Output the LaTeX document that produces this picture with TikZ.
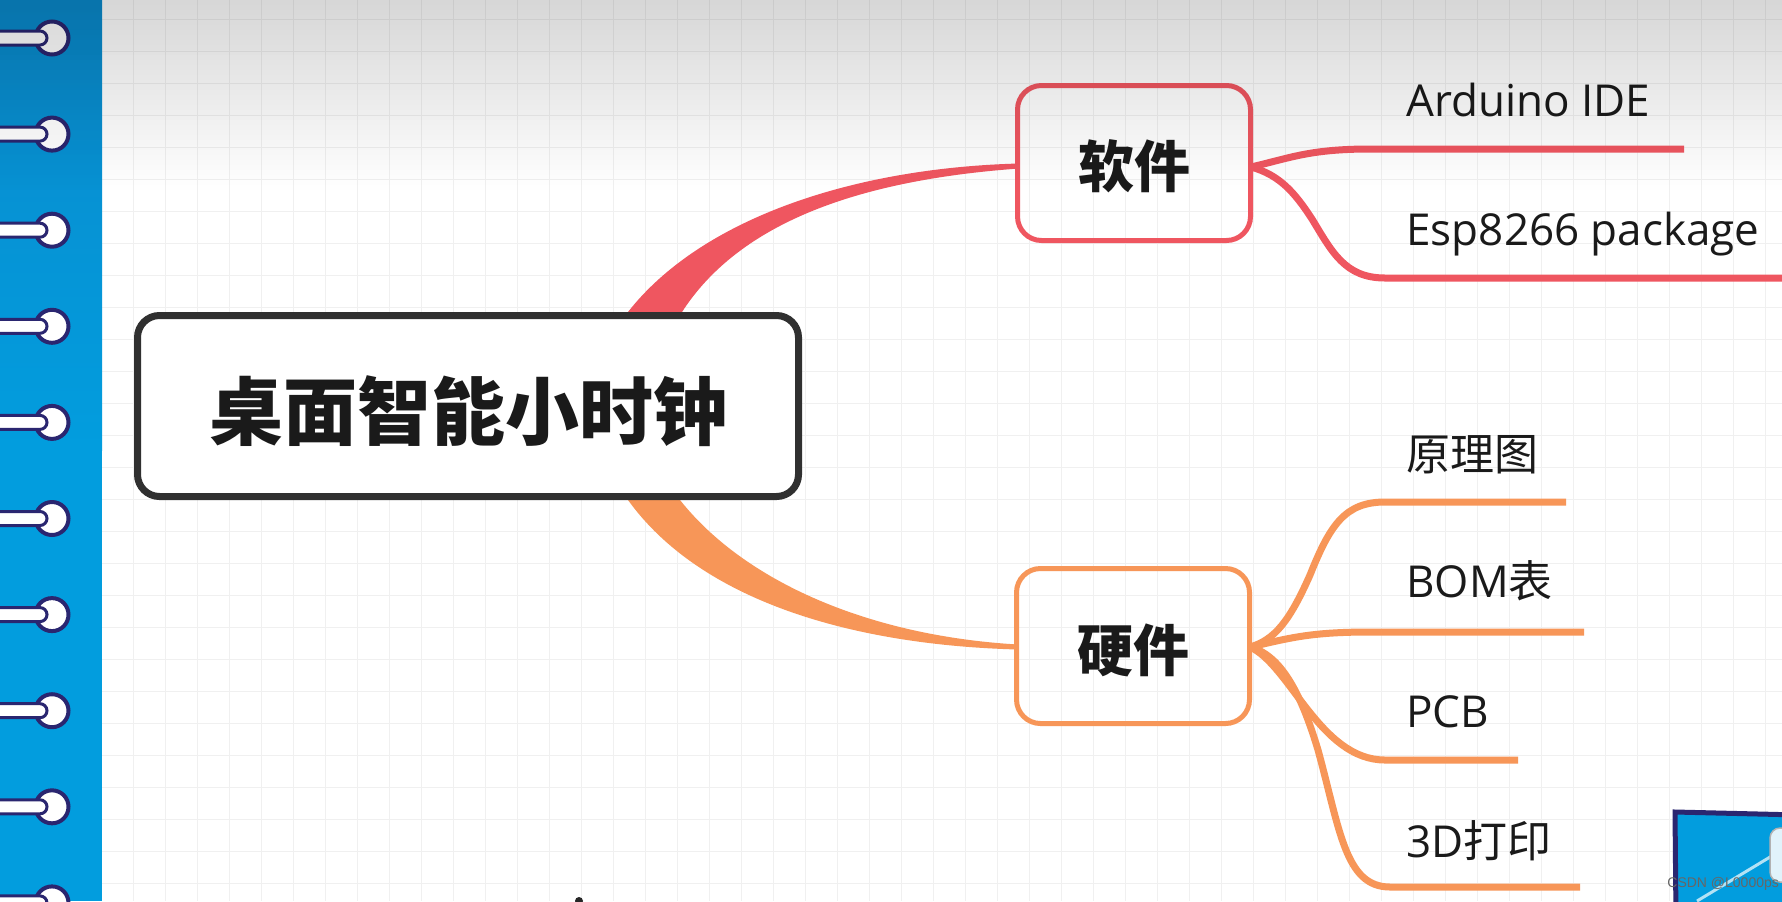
\documentclass[tikz,border=0pt]{standalone}
\usepackage{fontspec}
\setmainfont{Open Sans}
\newfontfamily\cjk{Noto Sans CJK SC}
\newfontfamily\wmfont{Liberation Sans}
\definecolor{redc}{RGB}{239,86,96}
\definecolor{orac}{RGB}{247,150,88}
\definecolor{mainc}{RGB}{48,48,48}
\definecolor{gridc}{RGB}{240,240,240}
\definecolor{stripc}{RGB}{2,157,222}
\definecolor{stripd}{RGB}{10,138,204}
\definecolor{navyc}{RGB}{42,38,112}
\definecolor{txtc}{RGB}{26,26,26}
\pgfdeclarelayer{back}
\pgfdeclarelayer{conn}
\pgfdeclarelayer{front}
\pgfsetlayers{back,conn,main,front}
\begin{document}
\begin{tikzpicture}[x=0.5pt,y=-0.5pt,
  mainbox/.style={draw=mainc, line width=3.5pt, rounded corners=11pt, fill=white,
    minimum width=330.5pt, minimum height=90.5pt, inner sep=0pt, text=txtc,
    font=\cjk\bfseries\fontsize{37pt}{40pt}\selectfont},
  subbox/.style={line width=2.5pt, rounded corners=12pt, minimum width=116.5pt,
    minimum height=77.5pt, inner sep=0pt, text=txtc,
    font=\cjk\bfseries\fontsize{28pt}{32pt}\selectfont},
  leaf/.style={anchor=base west, inner sep=0pt, text=txtc,
    font=\fontsize{22pt}{26pt}\selectfont},
  branch/.style={line width=3.5pt},
  ringbar/.style={draw=navyc, line width=1.5pt, fill=white, rounded corners=3.5pt},
  ringc/.style={draw=navyc, line width=2pt, fill=white},
]
\useasboundingbox (0,0) rectangle (1782,901);

% ---------- background ----------
\begin{pgfonlayer}{back}
\fill[white] (0,0) rectangle (1782,901);
\foreach \x in {133,165,...,1781} \draw[gridc, line width=0.5pt] (\x,0) -- (\x,901);
\foreach \y in {19,51,...,899} \draw[gridc, line width=0.5pt] (102,\y) -- (1782,\y);
\shade[top color=stripd, bottom color=stripc] (0,0) rectangle (102,450);
\fill[stripc] (0,449) rectangle (102,901);
\foreach \k in {0,...,9} {
  \pgfmathsetmacro\yy{38+96.1*\k}
  \draw[ringc] (52,\yy) circle[radius=8.25pt];
  \draw[ringbar] (-12,\yy-7) rectangle (47,\yy+7);
}
\end{pgfonlayer}

% ---------- nodes ----------
\node[mainbox] (main) at (468,406) {\raisebox{-2.5pt}[\height][\depth]{桌面智能小时钟}};
\node[subbox, draw=redc] (soft) at (1134,163) {\raisebox{-1.5pt}[\height][\depth]{软件}};
\node[subbox, draw=orac] (hard) at (1133,646) {\raisebox{-2pt}[\height][\depth]{硬件}};

\node[leaf] (l1) at (1406,116) {Arduino IDE};
\node[leaf] (l2) at (1406,245) {Esp8266 package};
\node[leaf] (l3) at (1406,470) {\cjk 原理图};
\node[leaf] (l4) at (1406,597) {BOM{\cjk 表}};
\node[leaf] (l5) at (1406,727) {PCB};
\node[leaf] (l6) at (1406,857) {3D{\cjk 打印}};

\coordinate (e1) at (1684,149);
\coordinate (e2) at (1800,278);
\coordinate (e3) at (1566,502);
\coordinate (e4) at (1584,632);
\coordinate (e5) at (1518,760);
\coordinate (e6) at (1580,887);

% ---------- connectors ----------
\begin{pgfonlayer}{conn}
\fill[redc] (628,340) -- (628,312) .. controls (700,220) and (850,168) ..
  ([xshift=2pt,yshift=-0.25pt]soft.west) -- ([xshift=2pt,yshift=-2.75pt]soft.west)
  .. controls (860,180) and (740,222) .. (682,312) -- (682,340) -- cycle;
\fill[orac] (628,480) -- (628,500) .. controls (700,600) and (850,645) ..
  ([xshift=2pt,yshift=-1.75pt]hard.west) -- ([xshift=2pt,yshift=0.75pt]hard.west)
  .. controls (870,636) and (745,582) .. (680,500) -- (680,480) -- cycle;

\draw[branch, redc] ([xshift=-1pt,yshift=-2pt]soft.east) .. controls (1290,158) and (1310,149) .. (1370,149) -- (e1);
\draw[branch, redc] ([xshift=-1pt,yshift=-2pt]soft.east) .. controls (1280,175) and (1295,193) .. (1312,219)
  .. controls (1332,252) and (1345,278) .. (1385,278) -- (e2);

\draw[branch, orac] ([xshift=-1pt,yshift=-0.5pt]hard.east) .. controls (1275,640) and (1290,620) .. (1310,575)
  .. controls (1330,525) and (1345,502) .. (1385,502) -- (e3);
\draw[branch, orac] ([xshift=-1pt,yshift=-0.5pt]hard.east) .. controls (1290,638) and (1310,632) .. (1370,632) -- (e4);
\draw[branch, orac] ([xshift=-1pt,yshift=-0.5pt]hard.east) .. controls (1290,665) and (1320,760) .. (1385,760) -- (e5);
\draw[branch, orac] ([xshift=-1pt,yshift=-0.5pt]hard.east) .. controls (1280,655) and (1300,690) .. (1318,750)
  .. controls (1340,830) and (1345,887) .. (1390,887) -- (e6);
\end{pgfonlayer}

% ---------- overlay and corner ----------
\begin{pgfonlayer}{front}
\foreach \i in {0,...,37} {
  \pgfmathsetmacro\op{0.16*(1-(\i+0.5)/38)}
  \fill[black, fill opacity=\op] (0,\i*5) rectangle (1782,\i*5+5);
}
\draw[navyc, line width=2.5pt, fill=stripc] (1675,812) -- (1800,815) -- (1800,920) -- (1676,920) -- cycle;
\draw[white!70!stripc, line width=1.5pt] (1697,901) -- (1790,845);
\draw[gray!60, line width=0.75pt, fill=white!88!stripc, rounded corners=5pt] (1770,828) rectangle (1800,882);
\node[anchor=west, inner sep=0pt, text=gray!80!black, font=\wmfont\fontsize{7pt}{8pt}\selectfont] (wm) at (1667,884) {CSDN @L0000ps};
\fill[black!85] (579,901) circle[radius=2pt];
\end{pgfonlayer}
\end{tikzpicture}
\end{document}
